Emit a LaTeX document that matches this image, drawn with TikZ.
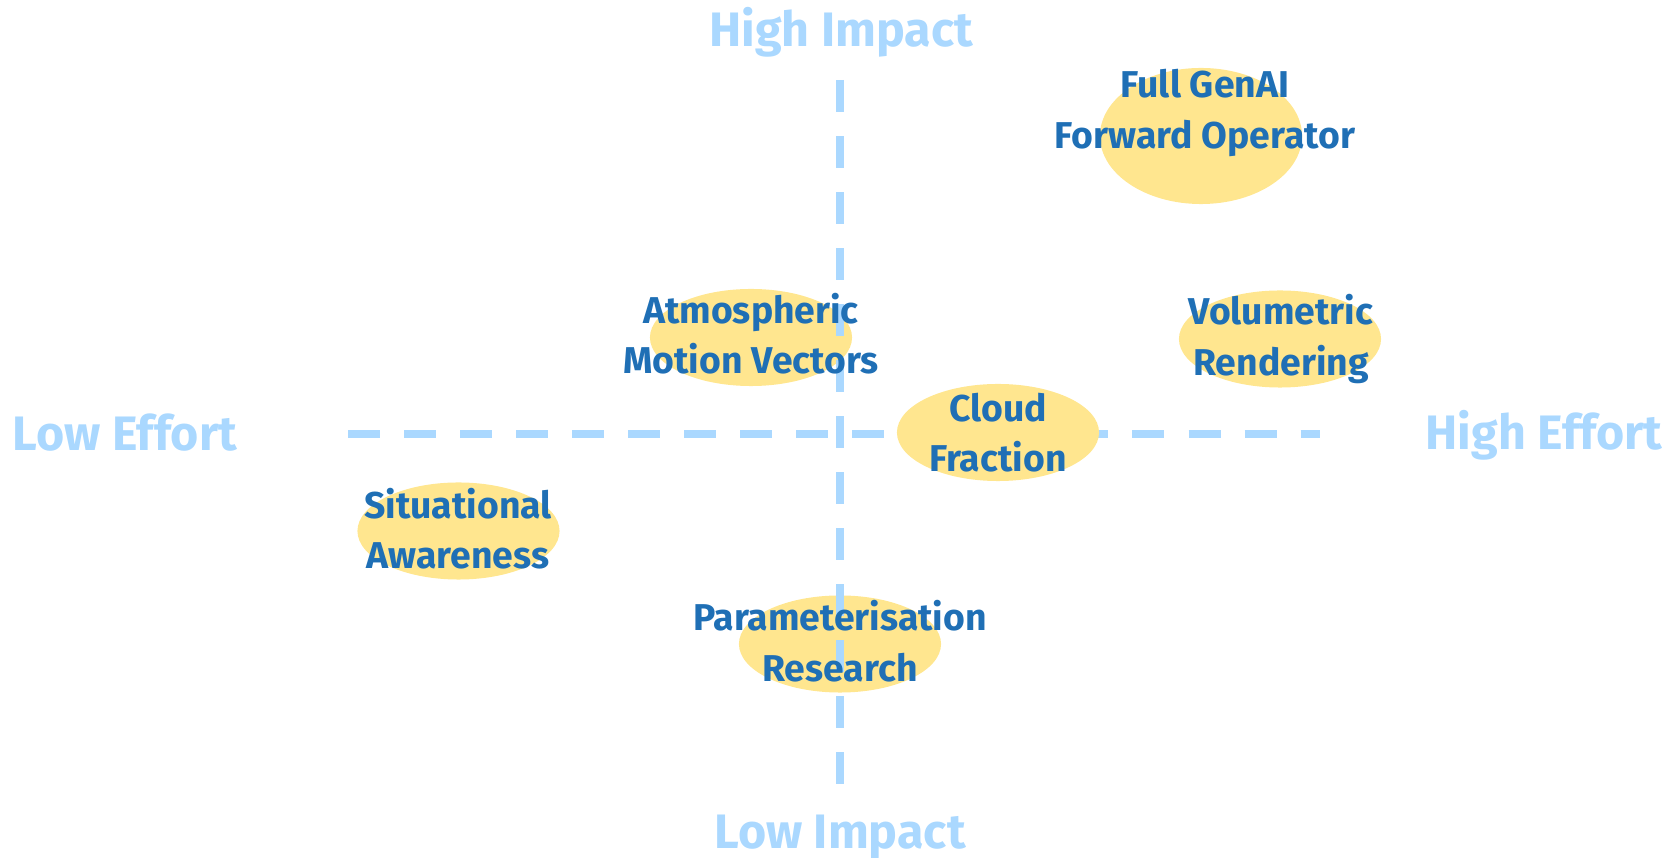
\documentclass[tikz,border=0pt]{standalone}
\usepackage{fontspec}
\setmainfont{Fira Sans}
\usepackage{tikz}
\usetikzlibrary{shapes.geometric}
\definecolor{axiscolor}{RGB}{170, 216, 255}
\definecolor{itemcolor}{RGB}{31, 111, 181}
\definecolor{blobcolor}{RGB}{255, 230, 143}

\begin{document}
\begin{tikzpicture}[x=0.01cm, y=-0.01cm,
        axis/.style={axiscolor, line width=0.08cm, dash pattern=on 0.32cm off 0.24cm},
        blob/.style={ellipse, fill=blobcolor, inner sep=0pt, minimum width=2.02cm, minimum height=0.97cm},
        item/.style={align=center, text=itemcolor, font=\bfseries\fontsize{10.62}{14.4}\selectfont},
        pole/.style={anchor=base, text=axiscolor, font=\bfseries\fontsize{13.75}{16}\selectfont}
    ]
        \useasboundingbox (0,0) rectangle (1665,858);

        % Effort axis (under the blobs)
        \coordinate (xl) at (348,434);
        \coordinate (xr) at (1320,434);
        \draw[axis] (xl) -- (xr);

        % Blobs
        \node[blob, minimum height=1.36cm] (genai) at (1201,136) {};
        \node[blob] (amv) at (751,337.5) {};
        \node[blob] (vol) at (1280,339) {};
        \node[blob] (cloud) at (998,432.5) {};
        \node[blob] (sit) at (458.5,531) {};
        \node[blob] (param) at (840,644) {};

        % Impact axis
        \coordinate (yt) at (840,80);
        \coordinate (yb) at (840,784);
        \draw[axis] (yt) -- (yb);

        % Item labels
        \node[item] (genaiT) at (1205,113) {Full GenAI\\Forward Operator};
        \node[item] (amvT) at (751,333.5) {Atmospheric\\Motion Vectors};
        \node[item] (volT) at (1281,339) {Volumetric\\Rendering};
        \node[item] (cloudT) at (998,432.5) {Cloud\\Fraction};
        \node[item] (sitT) at (458,528.5) {Situational\\Awareness};
        \node[item] (paramT) at (840,641) {Parameterisation\\Research};

        % Axis ends
        \node[pole] (hiImp) at (841,47) {High Impact};
        \node[pole] (loImp) at (840,849) {Low Impact};
        \node[pole] (loEff) at (125,451) {Low Effort};
        \node[pole] (hiEff) at (1544,450) {High Effort};

    \end{tikzpicture}
\end{document}
